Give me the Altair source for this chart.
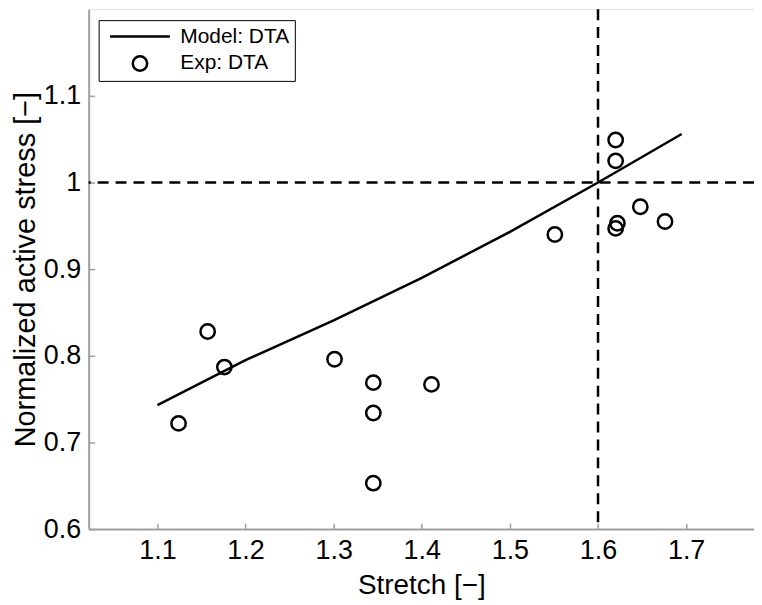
import altair as alt
import pandas as pd

# ---- data ----
model_x = [1.10, 1.20, 1.30, 1.40, 1.50, 1.60, 1.695]
model_y = [0.743, 0.795, 0.841, 0.890, 0.943, 1.000, 1.056]

exp_x = [1.124, 1.157, 1.176, 1.301, 1.345, 1.345, 1.345, 1.411, 1.551,
         1.620, 1.620, 1.622, 1.620, 1.648, 1.676]
exp_y = [0.722, 0.828, 0.787, 0.796, 0.769, 0.734, 0.653, 0.767, 0.940,
         1.049, 1.025, 0.953, 0.947, 0.972, 0.955]

ref_x = [1.6]
ref_y = [1.0]

x_ticks = [1.1, 1.2, 1.3, 1.4, 1.5, 1.6, 1.7]
y_ticks = [0.6, 0.7, 0.8, 0.9, 1.0, 1.1]
series_names = ["Model: DTA", "Exp: DTA"]

# ---- styling ----
FONT = "Liberation Sans"
GRAY = "#a0a0a0"
W, H = 668, 522
LINE_PATH = "M-3,0L3,0"
CIRCLE_PATH = "M0.72,0A0.72,0.72,0,1,1,-0.72,0A0.72,0.72,0,1,1,0.72,0Z"

model_df = pd.DataFrame({"x": model_x, "y": model_y})
exp_df = pd.DataFrame({"x": exp_x, "y": exp_y, "series": ["Exp: DTA"] * len(exp_x)})
vref_df = pd.DataFrame({"x": ref_x})
href_df = pd.DataFrame({"y": ref_y})

xscale = alt.Scale(domain=[1.022, 1.777], nice=False, zero=False)
yscale = alt.Scale(domain=[0.6, 1.2], nice=False, zero=False)

main_x_axis = alt.Axis(
    orient="bottom", title="Stretch [−]", values=x_ticks, format="~g",
    ticks=False, tickSize=0, grid=False,
    domainColor=GRAY, domainWidth=2,
    labelFontSize=27, labelPadding=9, labelColor="black", labelFont=FONT,
    titleFontSize=28, titleFontWeight="normal", titleColor="black", titleFont=FONT,
    titleY=65, titleBaseline="alphabetic",
)
main_y_axis = alt.Axis(
    orient="left", title="Normalized active stress [−]", values=y_ticks, format="~g",
    ticks=False, tickSize=0, grid=False,
    domainColor=GRAY, domainWidth=2,
    labelFontSize=27, labelPadding=8, labelColor="black", labelFont=FONT,
    titleFontSize=29, titleFontWeight="normal", titleColor="black", titleFont=FONT,
    titleX=-54, titleBaseline="alphabetic",
)
tick_x_axis = alt.Axis(
    orient="top", offset=-H, values=x_ticks, labels=False, domain=False,
    ticks=True, tickSize=6, tickColor=GRAY, tickWidth=1.5, grid=False, title=None,
)
tick_y_axis = alt.Axis(
    orient="right", offset=-W, values=y_ticks, labels=False, domain=False,
    ticks=True, tickSize=6, tickColor=GRAY, tickWidth=1.5, grid=False, title=None,
)

vrule = alt.Chart(vref_df).mark_rule(
    color="black", strokeWidth=2.5, strokeDash=[11, 7]
).encode(x=alt.X("x:Q", scale=xscale, axis=None))

hrule = alt.Chart(href_df).mark_rule(
    color="black", strokeWidth=2.5, strokeDash=[11, 7]
).encode(y=alt.Y("y:Q", scale=yscale, axis=None))

line = alt.Chart(model_df).mark_line(color="black", strokeWidth=2.5).encode(
    x=alt.X("x:Q", scale=xscale, axis=tick_x_axis),
    y=alt.Y("y:Q", scale=yscale, axis=tick_y_axis),
)

points = alt.Chart(exp_df).mark_point(
    filled=False, size=400, strokeWidth=2.5, color="black", opacity=1
).encode(
    x=alt.X("x:Q", scale=xscale, axis=main_x_axis),
    y=alt.Y("y:Q", scale=yscale, axis=main_y_axis),
    shape=alt.Shape(
        "series:N",
        scale=alt.Scale(domain=series_names, range=[LINE_PATH, CIRCLE_PATH]),
        legend=alt.Legend(
            title=None, orient="none", legendX=10, legendY=11, direction="vertical",
            symbolSize=400, symbolStrokeColor="black", symbolFillColor="transparent",
            symbolStrokeWidth=2.5, symbolOpacity=1,
            labelFontSize=21, labelFont=FONT, labelColor="black",
            fillColor="white", strokeColor="black", padding=5, rowPadding=4,
            symbolOffset=25, labelOffset=29, cornerRadius=0,
        ),
    ),
)

chart = alt.layer(hrule, vrule, line, points).resolve_axis(
    x="independent", y="independent"
).properties(
    width=W, height=H,
    autosize=alt.AutoSizeParams(type="none"),
    padding={"left": 81, "top": 0, "right": 0, "bottom": 75},
).configure_view(stroke=None).configure(font=FONT)

chart.save("out.html", embed_options={"renderer": "svg", "actions": False})
